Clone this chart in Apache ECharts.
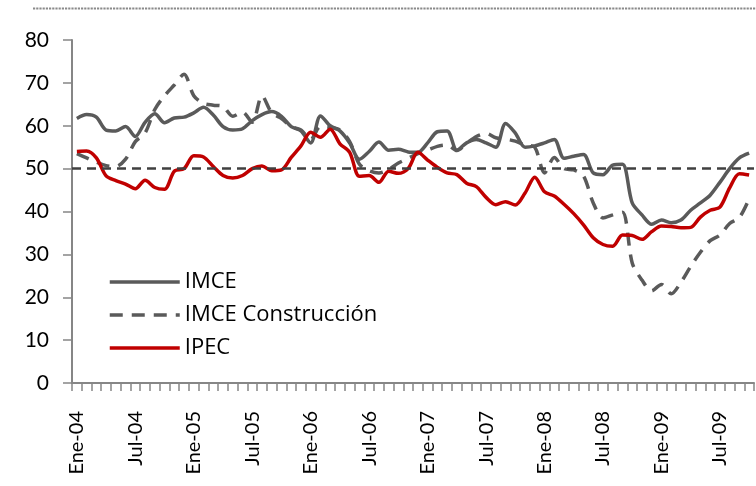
<!DOCTYPE html>
<html><head><meta charset="utf-8">
<script src="https://cdn.jsdelivr.net/npm/echarts@6/dist/echarts.min.js"></script>
<style>html,body{margin:0;padding:0;background:#fff}#c{width:756px;height:486px}</style>
</head><body><div id="c"></div>
<script>
var monthNames = ['Ene','Feb','Mar','Abr','May','Jun','Jul','Ago','Sep','Oct','Nov','Dic'];
var years = ['04','05','06','07','08','09'];
var nMonths = 70;
var categories = [];
for (var i = 0; i < nMonths; i++) categories.push(monthNames[i % 12] + '-' + years[Math.floor(i / 12)]);

var imce = [61.7,62.6,62.0,59.0,58.8,59.8,57.5,60.8,62.8,60.7,61.8,62.0,
            63.0,64.3,62.5,59.8,59.0,59.3,61.2,62.6,63.3,62.2,59.8,58.8,
            56.0,62.3,60.0,58.8,56.0,52.2,54.0,56.2,54.3,54.5,53.9,53.8,
            56.0,58.6,58.8,54.3,56.0,56.8,56.0,55.0,60.5,58.3,55.0,55.3,
            56.0,56.8,52.4,52.9,53.3,49.0,48.6,50.8,51.0,42.0,39.2,37.0,
            38.0,37.4,38.0,40.3,42.0,43.8,46.8,50.0,52.5,53.6];
var imceConstruccion = [53.5,52.5,51.5,50.7,50.5,52.2,56.3,58.3,63.8,67.0,69.5,72.0,
            67.0,65.2,64.8,64.5,62.2,63.2,60.8,67.0,63.0,61.7,59.8,59.0,
            56.8,59.8,59.6,59.0,56.3,51.0,49.5,49.0,49.8,51.3,52.4,53.5,
            54.3,55.2,55.5,54.2,55.9,57.5,58.2,57.2,56.9,56.4,55.5,55.0,
            49.0,52.6,50.0,49.7,48.3,42.0,38.5,39.2,39.8,28.0,24.0,21.5,
            23.0,20.8,23.5,27.2,30.5,33.2,34.5,37.2,38.6,43.0];
var ipec = [54.0,54.1,52.5,48.3,47.2,46.4,45.3,47.3,45.6,45.2,49.4,50.0,
            53.0,52.7,50.5,48.4,47.8,48.4,50.0,50.6,49.5,49.7,52.6,55.3,
            58.5,57.3,59.2,55.8,53.8,48.2,48.4,46.8,49.4,48.9,50.0,53.8,
            52.0,50.3,49.0,48.6,46.6,45.8,43.3,41.6,42.3,41.5,44.3,48.0,
            44.6,43.6,41.7,39.5,36.9,33.9,32.3,31.9,34.5,34.4,33.5,35.3,
            36.6,36.5,36.2,36.3,38.7,40.3,41.0,45.5,48.8,48.5];
var refLevel = 50;
var yTicks = {min: 0, max: 80, step: 10};

var FONT = 'Lato, "Open Sans", sans-serif';
var LEGEND_FONT = '"Open Sans", Lato, sans-serif';
var chart = echarts.init(document.getElementById('c'), null, {renderer: 'canvas'});
chart.setOption({
  animation: false,
  backgroundColor: '#fff',
  grid: {left: 72, right: 2, top: 40, bottom: 103, containLabel: false},
  graphic: [{
    type: 'line', shape: {x1: 33, y1: 8.5, x2: 756, y2: 8.5},
    style: {stroke: '#8a8a8a', lineWidth: 2, lineDash: [2.2, 1]}
  }],
  legend: {
    orient: 'vertical', left: 103, top: 266,
    itemWidth: 70, itemHeight: 14, itemGap: 11,
    itemStyle: {opacity: 0, borderWidth: 0},
    lineStyle: {width: 3.5},
    textStyle: {fontFamily: LEGEND_FONT, fontSize: 22, color: '#000', lineHeight: 22},
    data: ['IMCE', 'IMCE Construcción', 'IPEC']
  },
  xAxis: {
    type: 'category', data: categories, boundaryGap: true,
    axisLine: {lineStyle: {color: '#868686', width: 2}},
    axisTick: {show: true, interval: 0, length: 8, lineStyle: {color: '#868686', width: 1.5}},
    axisLabel: {interval: 5, rotate: 90, margin: 28, fontFamily: FONT, fontSize: 20, color: '#000'},
    splitLine: {show: false}
  },
  yAxis: {
    type: 'value', min: yTicks.min, max: yTicks.max, interval: yTicks.step,
    axisLine: {show: true, lineStyle: {color: '#868686', width: 2}},
    axisTick: {show: true, length: 9, lineStyle: {color: '#868686', width: 1.5}},
    axisLabel: {margin: 23, fontFamily: FONT, fontSize: 21, color: '#000'},
    splitLine: {show: false}
  },
  series: [
    {name: 'IMCE', type: 'line', data: imce, smooth: 0.3, symbol: 'none',
     lineStyle: {color: '#5a5a5a', width: 3.5}, itemStyle: {color: '#5a5a5a'},
     markLine: {silent: true, symbol: 'none', label: {show: false},
       lineStyle: {color: '#404040', type: [9, 6], width: 2.5},
       data: [{yAxis: refLevel}]}},
    {name: 'IMCE Construcción', type: 'line', data: imceConstruccion, smooth: 0.3, symbol: 'none',
     lineStyle: {color: '#5a5a5a', width: 3.5, type: [13, 9]}, itemStyle: {color: '#5a5a5a'}},
    {name: 'IPEC', type: 'line', data: ipec, smooth: 0.3, symbol: 'none',
     lineStyle: {color: '#c00000', width: 3.5}, itemStyle: {color: '#c00000'}}
  ]
});
</script></body></html>
